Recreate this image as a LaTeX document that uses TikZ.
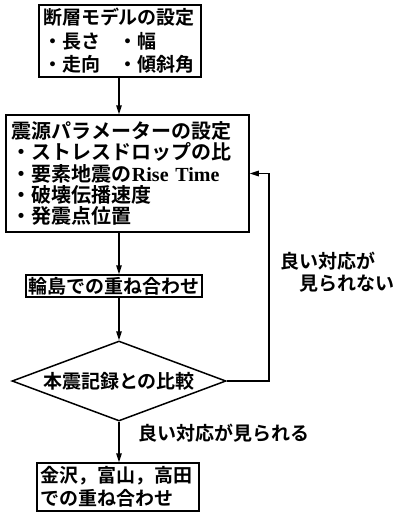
\documentclass[tikz,border=0pt]{standalone}
\usepackage{fontspec}
\setmainfont{Noto Sans CJK JP}[BoldFont=* Bold]
\newfontfamily\latn{Liberation Serif}
\usetikzlibrary{shapes.geometric,arrows.meta}
\begin{document}
\begin{tikzpicture}[x=1pt,y=-1pt,
  box/.style={draw, line width=1.5pt, inner ysep=0pt},
  fs/.style={font=\bfseries\fontsize{19}{23.5}\selectfont},
  arr/.style={-{Triangle[length=9pt,width=5.5pt]}, line width=1.5pt},
  lbl/.style={inner sep=0pt, font=\bfseries\fontsize{19}{22}\selectfont}]
\useasboundingbox (0,0) rectangle (403,512);
\node[box, fs, text width=154pt, inner xsep=4pt, minimum height=72pt, align=left] (b1) at (120,41)
  {断層モデルの設定\\・長さ　・幅\\・走向　・傾斜角};
\node[box, font=\bfseries\fontsize{20}{21.3}\selectfont, text width=231pt, inner xsep=6pt, minimum height=117pt, align=left] (b2) at (127.5,173.5)
  {震源パラメーターの設定\\・ストレスドロップの比\\・要素地震の{\latn Rise Time}\\・破壊伝播速度\\・発震点位置};
\node[box, fs, minimum width=176pt, minimum height=22pt, inner xsep=0pt] (b3) at (114,286) {輪島での重ね合わせ};
\node[draw, line width=1.5pt, diamond, aspect=2.7, fs, minimum width=214pt, minimum height=80pt, inner sep=0pt] (d) at (119,381) {本震記録との比較};
\node[box, font=\bfseries\fontsize{19}{23}\selectfont, text width=154pt, inner xsep=4pt, minimum height=48pt, align=left] (b4) at (118,487)
  {金沢，富山，高田\\での重ね合わせ};
\node[lbl, anchor=west, align=left] (l1) at (280,272) {良い対応が\\　見られない};
\node[lbl, anchor=west] (l2) at (138,433) {良い対応が見られる};
\coordinate (fb) at (269,0);
\draw[arr] (b1.south -| d.north) -- (b2.north -| d.north);
\draw[arr] (b2.south -| d.north) -- (b3.north -| d.north);
\draw[arr] (b3.south -| d.north) -- (d.north);
\draw[arr] (d.south) -- (b4.north -| d.south);
\draw[arr] (d.east) -- (d.east -| fb) -- (fb |- b2.east) -- (b2.east);
\end{tikzpicture}
\end{document}
